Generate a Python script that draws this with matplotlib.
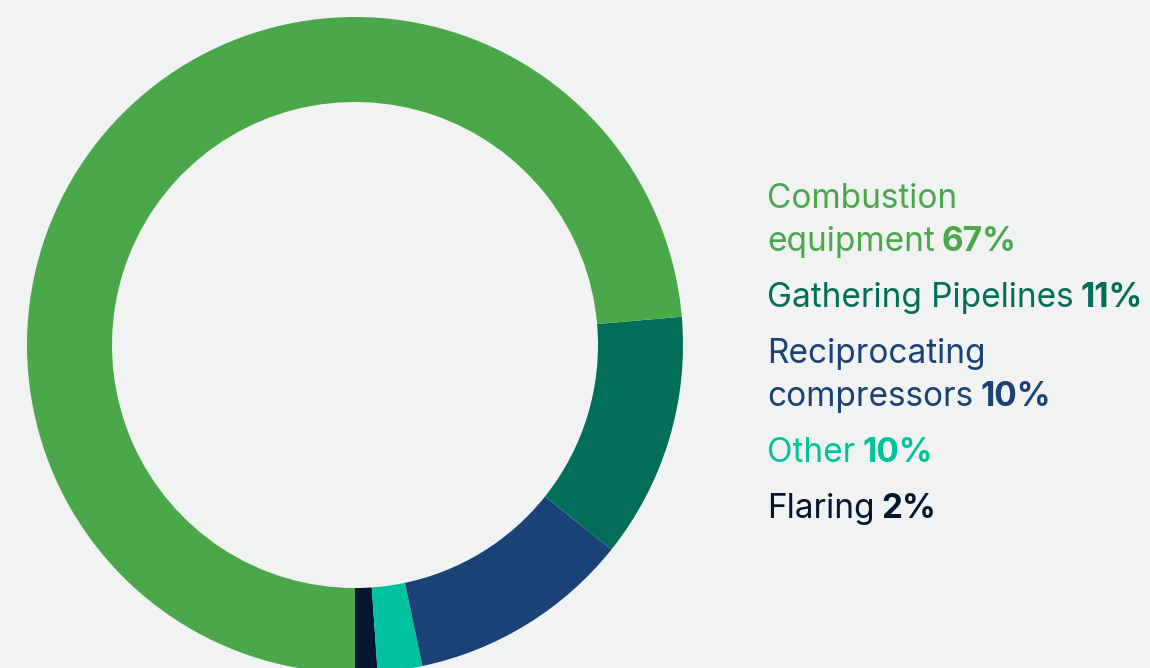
import matplotlib
matplotlib.use("Agg")
import matplotlib.pyplot as plt

# slice sizes as drawn, counter-clockwise from the bottom
slice_names = ["Flaring", "Other", "Reciprocating compressors", "Gathering Pipelines", "Combustion equipment"]
slice_values = [1, 2, 10, 11, 67]
slice_colors = ["#021630", "#00c29c", "#1a4277", "#026e5a", "#4aa84a"]

# legend text, top to bottom
legend_lines = [["Combustion"], ["equipment", "67%"], ["Gathering Pipelines", "11%"],
                ["Reciprocating"], ["compressors", "10%"], ["Other", "10%"], ["Flaring", "2%"]]
legend_colors = ["#4aa84a", "#4aa84a", "#026e5a", "#1a4277", "#1a4277", "#00c29c", "#021630"]
legend_base = [208, 251, 307, 363, 406, 462, 518]

bg = "#f1f3f2"
W, H = 1150, 668
fig = plt.figure(figsize=(W / 100, H / 100), dpi=100, facecolor=bg)
ax = fig.add_axes([0, 0, 1, 1])
ax.set_facecolor(bg)

cx, cy, r = 355, H - 345, 328
ax.pie(slice_values, colors=slice_colors, startangle=-90, counterclock=True,
       center=(cx, cy), radius=r, frame=True,
       wedgeprops=dict(width=85, linewidth=0))
ax.set_xlim(0, W)
ax.set_ylim(0, H)
ax.set_aspect("equal")
ax.axis("off")

font = "Inter"
fs = 24
renderer = fig.canvas.get_renderer()
x0 = 767
for parts, col, y in zip(legend_lines, legend_colors, legend_base):
    t = ax.text(x0, H - y, parts[0], color=col, fontsize=fs, family=font,
                va="baseline", ha="left")
    if len(parts) > 1:
        bb = t.get_window_extent(renderer=renderer)
        ax.text(bb.x1 + 7, H - y, parts[1], color=col, fontsize=fs, family=font,
                fontweight="bold", va="baseline", ha="left")

fig.savefig("out.png", dpi=100, facecolor=bg)
